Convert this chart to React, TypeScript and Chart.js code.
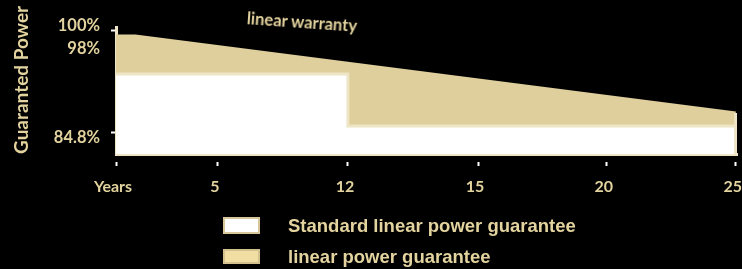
import React, { useEffect, useRef } from "react";
import { Chart, registerables } from "chart.js";

Chart.register(...registerables);

// ---- data ----
const xTickLabels = ["Years", "5", "12", "15", "20", "25"];
const xTickPositions = [0, 0.79, 1.8, 2.81, 3.81, 4.81];
const yTickValues = [84.8, 98, 100];
const yTickLabels = ["84.8%", "98%", "100%"];
const warrantyX = [0, 0.15, 4.81];
const warrantyY = [99.18, 99.18, 87.69];
const standardX = [0, 1.8, 4.8];
const standardY = [93.5, 85.75, 85.75];
const xRange = [0, 4.82];
const yRange = [81.56, 100.52];

const legendLabels = ["Standard linear power guarantee", "linear power guarantee"];
const annotationText = "linear warranty";
const yTitle = "Guaranted Power";

// ---- styles ----
const TEXT = "#e3d39e";
const TAN = "#dfcf9d";
const BEIGE = "#eee5c6";
// label nudges (which side of the tick each label sits): -1 above, +1 below
const yLabelSide: Record<string, number> = { "100%": -1, "98%": 1, "84.8%": 1 };

export default function App() {
  const ref = useRef<HTMLCanvasElement | null>(null);

  useEffect(() => {
    document.body.style.margin = "0";
    document.body.style.background = "#000";
    const canvas = ref.current;
    if (!canvas) return;

    const warrantyData = warrantyX.map((x, i) => ({ x, y: warrantyY[i] }));
    warrantyData.push({ x: warrantyX[warrantyX.length - 1], y: yRange[0] });
    const standardData = standardX.map((x, i) => ({ x, y: standardY[i] }));

    const chart = new Chart(canvas, {
      type: "line",
      data: {
        datasets: [
          {
            label: legendLabels[0],
            data: standardData,
            stepped: "before",
            fill: "start",
            backgroundColor: "#ffffff",
            borderColor: BEIGE,
            borderWidth: 3,
            pointRadius: 0,
          },
          {
            label: legendLabels[1],
            data: warrantyData,
            fill: "start",
            backgroundColor: TAN,
            borderColor: TAN,
            borderWidth: 3,
            pointRadius: 0,
            segment: {
              borderColor: (ctx: any) =>
                ctx.p0.parsed.x === ctx.p1.parsed.x ? BEIGE : TAN,
            },
          },
        ],
      },
      options: {
        responsive: false,
        animation: false,
        layout: { padding: { top: 27, right: 5, bottom: 75, left: 0 } },
        plugins: { legend: { display: false }, tooltip: { enabled: false } },
        scales: {
          x: {
            type: "linear",
            min: xRange[0],
            max: xRange[1],
            afterFit: (s: any) => {
              s.height = 40;
              s.paddingLeft = 0;
              s.paddingRight = 0;
            },
            afterBuildTicks: (s: any) => {
              s.ticks = xTickPositions.map((v) => ({ value: v }));
            },
            ticks: {
              autoSkip: false,
              maxRotation: 0,
              color: TEXT,
              padding: 11,
              labelOffset: -3,
              font: { family: "Lato", weight: "bold", size: 16 },
              callback: (_v: any, i: number) => xTickLabels[i],
            },
            grid: {
              drawOnChartArea: false,
              tickLength: 12,
              tickColor: "#ffffff",
              tickWidth: 2,
              tickBorderDash: [0, 6, 6],
            },
            border: { display: true, color: BEIGE, width: 3 },
          },
          y: {
            type: "linear",
            min: yRange[0],
            max: yRange[1],
            afterFit: (s: any) => {
              s.width = 116;
              s.paddingTop = 0;
              s.paddingBottom = 0;
            },
            afterBuildTicks: (s: any) => {
              s.ticks = yTickValues.map((v) => ({ value: v }));
            },
            ticks: {
              autoSkip: false,
              color: TEXT,
              padding: 11,
              font: { family: "Lato", weight: "bold", size: 16.5, lineHeight: 0.62 },
              callback: (_v: any, i: number) => {
                const t = yTickLabels[i];
                return yLabelSide[t] < 0 ? [t, ""] : ["", t];
              },
            },
            grid: {
              drawOnChartArea: false,
              tickLength: 5,
              tickWidth: 2,
              tickColor: (ctx: any) =>
                ctx.tick && ctx.tick.value === 98 ? "rgba(0,0,0,0)" : "#ffffff",
            },
            border: { display: true, color: BEIGE, width: 3, dash: [0, 9, 300] },
            title: {
              display: true,
              text: yTitle,
              color: TEXT,
              align: "start",
              padding: { top: 10.5, bottom: 0 },
              font: { family: "Lato", weight: "bold", size: 19 },
            },
          },
        },
      },
    } as any);

    return () => chart.destroy();
  }, []);

  const legendText: React.CSSProperties = {
    position: "absolute",
    left: 288,
    fontFamily: "'Liberation Sans', Arial, sans-serif",
    fontWeight: "bold",
    fontSize: 18.5,
    lineHeight: "20px",
    color: TEXT,
    whiteSpace: "nowrap",
  };

  return (
    <div
      style={{
        position: "fixed",
        left: 0,
        top: 0,
        width: 742,
        height: 269,
        background: "#000",
        overflow: "hidden",
      }}
    >
      <canvas ref={ref} width={742} height={269} style={{ display: "block" }} />
      <div
        style={{
          position: "absolute",
          left: 302,
          top: 22,
          transform: "translate(-50%, -50%) rotate(4deg)",
          fontFamily: "Lato, sans-serif",
          fontWeight: "bold",
          fontSize: 16.5,
          color: TEXT,
          whiteSpace: "nowrap",
        }}
      >
        {annotationText}
      </div>
      <div
        style={{
          position: "absolute",
          left: 223,
          top: 217,
          width: 37,
          height: 17,
          boxSizing: "border-box",
          background: "#ffffff",
          border: "2px solid #d6c69a",
        }}
      />
      <div style={{ ...legendText, top: 215.6 }}>{legendLabels[0]}</div>
      <div
        style={{
          position: "absolute",
          left: 223,
          top: 249,
          width: 37,
          height: 15,
          boxSizing: "border-box",
          background: "#f0dea3",
          border: "2px solid #d2c08e",
        }}
      />
      <div style={{ ...legendText, top: 246.6 }}>{legendLabels[1]}</div>
    </div>
  );
}
